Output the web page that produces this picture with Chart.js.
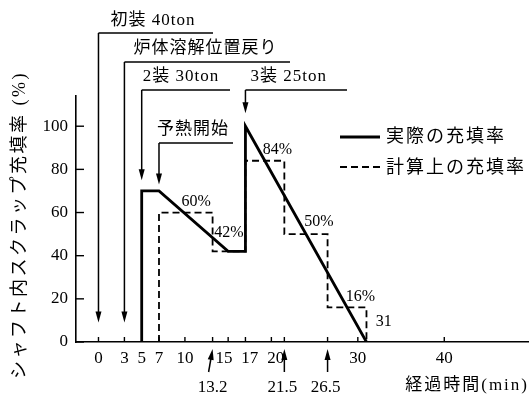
<!DOCTYPE html>
<html>
<head>
<meta charset="utf-8">
<script src="https://cdn.jsdelivr.net/npm/chart.js@4.4.0/dist/chart.umd.min.js"></script>
<style>
  html, body { margin: 0; padding: 0; background: #fff; }
  canvas { display: block; }
</style>
</head>
<body>
<canvas id="chart" width="529" height="394"></canvas>
<script>
// 実際の充填率 (経過時間 min / 充填率 %)
const actualTimes = [5, 5, 7, 15, 17, 17, 31];
const actualRates = [0, 70, 70, 42, 42, 100, 0];
// 計算上の充填率 (階段状)
const calcTimes = [7, 7, 13.2, 13.2, 17, 17, 21.5, 21.5, 26.5, 26.5, 31, 31];
const calcRates = [0, 60, 60, 42, 42, 84, 84, 50, 50, 16, 16, 0];

const xTickValues = [0, 3, 5, 7, 10, 15, 17, 20, 30, 40];
const yTickValues = [0, 20, 40, 60, 80, 100];

// 上部の矢印 (装入イベント)
const eventTimes = [0, 3, 5, 17, 7];
const eventLabels = ['初装 40ton', '炉体溶解位置戻り', '2装 30ton', '3装 25ton', '予熱開始'];
// 下部の矢印
const markTimes = [13.2, 21.5, 26.5];
// 段の注記
const stepLabels = ['60%', '42%', '84%', '50%', '16%', '31'];

const seriesLabels = ['実際の充填率', '計算上の充填率'];
const yTitle = 'シャフト内スクラップ充填率 (%)';
const xTitle = '経過時間(min)';

const FONT = "'Liberation Serif', 'Noto Sans CJK JP', serif";
const JP = "'Liberation Serif', 'Noto Sans CJK JP', sans-serif";

function toPoints(xs, ys) {
  return xs.map((x, i) => ({ x: x, y: ys[i] }));
}

// 15, 17, 20 のラベルは詰まっているので少しずらす
function xTickLabel(v) {
  if (v === 15) return '15\u2002';
  if (v === 17 || v === 20) return '\u2002' + v;
  return String(v);
}

// 矢印 (x1,y1) から先端 (x2,y2)
function arrow(ctx, x1, y1, x2, y2) {
  const a = Math.atan2(y2 - y1, x2 - x1);
  const len = 11, half = 3;
  ctx.beginPath();
  ctx.moveTo(x1, y1);
  ctx.lineTo(x2 - Math.cos(a) * len * 0.6, y2 - Math.sin(a) * len * 0.6);
  ctx.stroke();
  ctx.beginPath();
  ctx.moveTo(x2, y2);
  ctx.lineTo(x2 - len * Math.cos(a) + half * Math.sin(a), y2 - len * Math.sin(a) - half * Math.cos(a));
  ctx.lineTo(x2 - len * Math.cos(a) - half * Math.sin(a), y2 - len * Math.sin(a) + half * Math.cos(a));
  ctx.closePath();
  ctx.fill();
}

const eventLayout = [
  { lineY: 33, lineEnd: 213, textDx: 12, textY: 21, tip: 9 },
  { lineY: 62, lineEnd: 290, textDx: 9, textY: 49, tip: 9 },
  { lineY: 90, lineEnd: 230, textDx: 1, textY: 77, tip: 75 },
  { lineY: 90, lineEnd: 347, textDx: 5, textY: 77, tip: 106 },
  { lineY: 143, lineEnd: 233, textDx: -2, textY: 130, tip: 73 }
];
const stepLabelPos = [[11.3, 65], [15.1, 50.4], [20.7, 89], [25.5, 55.8], [30.3, 21.1], [33, 9.5]];

const annotations = {
  id: 'annotations',
  afterDraw(chart) {
    const ctx = chart.ctx;
    const xs = chart.scales.x, ys = chart.scales.y;
    const area = chart.chartArea;
    ctx.save();
    ctx.strokeStyle = '#000';
    ctx.fillStyle = '#000';
    ctx.lineWidth = 1.4;

    // 内向きの目盛り
    xTickValues.concat(markTimes).forEach(v => {
      const px = xs.getPixelForValue(v);
      ctx.beginPath();
      ctx.moveTo(px, area.bottom);
      ctx.lineTo(px, area.bottom - 5);
      ctx.stroke();
    });
    yTickValues.forEach(v => {
      const py = ys.getPixelForValue(v);
      ctx.beginPath();
      ctx.moveTo(area.left, py);
      ctx.lineTo(area.left + 8, py);
      ctx.stroke();
    });

    // 上部の矢印と注記
    ctx.textBaseline = 'middle';
    eventTimes.forEach((t, i) => {
      const L = eventLayout[i];
      const px = xs.getPixelForValue(t);
      ctx.lineWidth = 1.5;
      ctx.beginPath();
      ctx.moveTo(L.lineEnd, L.lineY);
      ctx.lineTo(px, L.lineY);
      ctx.stroke();
      arrow(ctx, px, L.lineY, px, ys.getPixelForValue(L.tip));
      ctx.font = '17px ' + JP;
      ctx.letterSpacing = '1px';
      ctx.textAlign = 'left';
      ctx.fillText(eventLabels[i], px + L.textDx, L.textY);
    });

    // 下部の矢印
    ctx.letterSpacing = '0px';
    markTimes.forEach((t, i) => {
      const px = xs.getPixelForValue(t);
      const dx = i === 0 ? -4 : 0;
      arrow(ctx, px + dx, 372, px, 349);
      ctx.font = '17px ' + FONT;
      ctx.textAlign = 'center';
      ctx.fillText(String(t), px + (i === 0 ? 0 : -2), 388);
    });

    // 段の注記
    ctx.font = '16px ' + FONT;
    ctx.textAlign = 'center';
    stepLabels.forEach((s, i) => {
      const p = stepLabelPos[i];
      ctx.fillText(s, xs.getPixelForValue(p[0]), ys.getPixelForValue(p[1]));
    });

    // 凡例
    ctx.lineWidth = 2.8;
    ctx.beginPath();
    ctx.moveTo(340, 137);
    ctx.lineTo(380, 137);
    ctx.stroke();
    ctx.lineWidth = 1.8;
    ctx.setLineDash([7, 4]);
    ctx.beginPath();
    ctx.moveTo(340, 167);
    ctx.lineTo(380, 167);
    ctx.stroke();
    ctx.setLineDash([]);
    ctx.font = '18px ' + JP;
    ctx.letterSpacing = '2px';
    ctx.textAlign = 'left';
    ctx.fillText(seriesLabels[0], 386, 137);
    ctx.fillText(seriesLabels[1], 386, 168);

    // 軸タイトル
    ctx.font = '17px ' + JP;
    ctx.letterSpacing = '2px';
    ctx.textAlign = 'right';
    ctx.fillText(xTitle, 529, 386);

    ctx.translate(20, 225);
    ctx.rotate(-Math.PI / 2);
    ctx.font = '18px ' + JP;
    ctx.letterSpacing = '2.5px';
    ctx.textAlign = 'center';
    ctx.fillText(yTitle, 0, 0);
    ctx.restore();
  }
};

new Chart(document.getElementById('chart'), {
  type: 'scatter',
  data: {
    datasets: [
      {
        label: seriesLabels[0],
        data: toPoints(actualTimes, actualRates),
        showLine: true,
        borderColor: '#000',
        borderWidth: 2.8,
        pointRadius: 0,
        tension: 0,
        fill: false
      },
      {
        label: seriesLabels[1],
        data: toPoints(calcTimes, calcRates),
        showLine: true,
        borderColor: '#000',
        borderWidth: 1.8,
        borderDash: [7, 4],
        pointRadius: 0,
        tension: 0,
        fill: false
      }
    ]
  },
  options: {
    responsive: false,
    animation: false,
    devicePixelRatio: 1,
    layout: { padding: { top: 96, right: 0, left: 0, bottom: 0 } },
    plugins: { legend: { display: false }, tooltip: { enabled: false } },
    scales: {
      x: {
        type: 'linear',
        min: -2.6,
        max: 49.8,
        afterBuildTicks: s => { s.ticks = xTickValues.map(v => ({ value: v })); },
        afterFit: s => { s.height = 52; },
        grid: { display: false, drawTicks: false },
        border: { display: true, color: '#000', width: 1.6 },
        ticks: {
          autoSkip: false,
          maxRotation: 0,
          padding: 6,
          color: '#000',
          font: { family: FONT, size: 17 },
          callback: xTickLabel
        }
      },
      y: {
        type: 'linear',
        min: 0,
        max: 114,
        afterBuildTicks: s => { s.ticks = yTickValues.map(v => ({ value: v })); },
        afterFit: s => { s.width = 76; },
        grid: { display: false, drawTicks: false },
        border: { display: true, color: '#000', width: 1.6 },
        ticks: {
          padding: 8,
          color: '#000',
          font: { family: FONT, size: 17 }
        }
      }
    }
  },
  plugins: [annotations]
});
</script>
</body>
</html>
